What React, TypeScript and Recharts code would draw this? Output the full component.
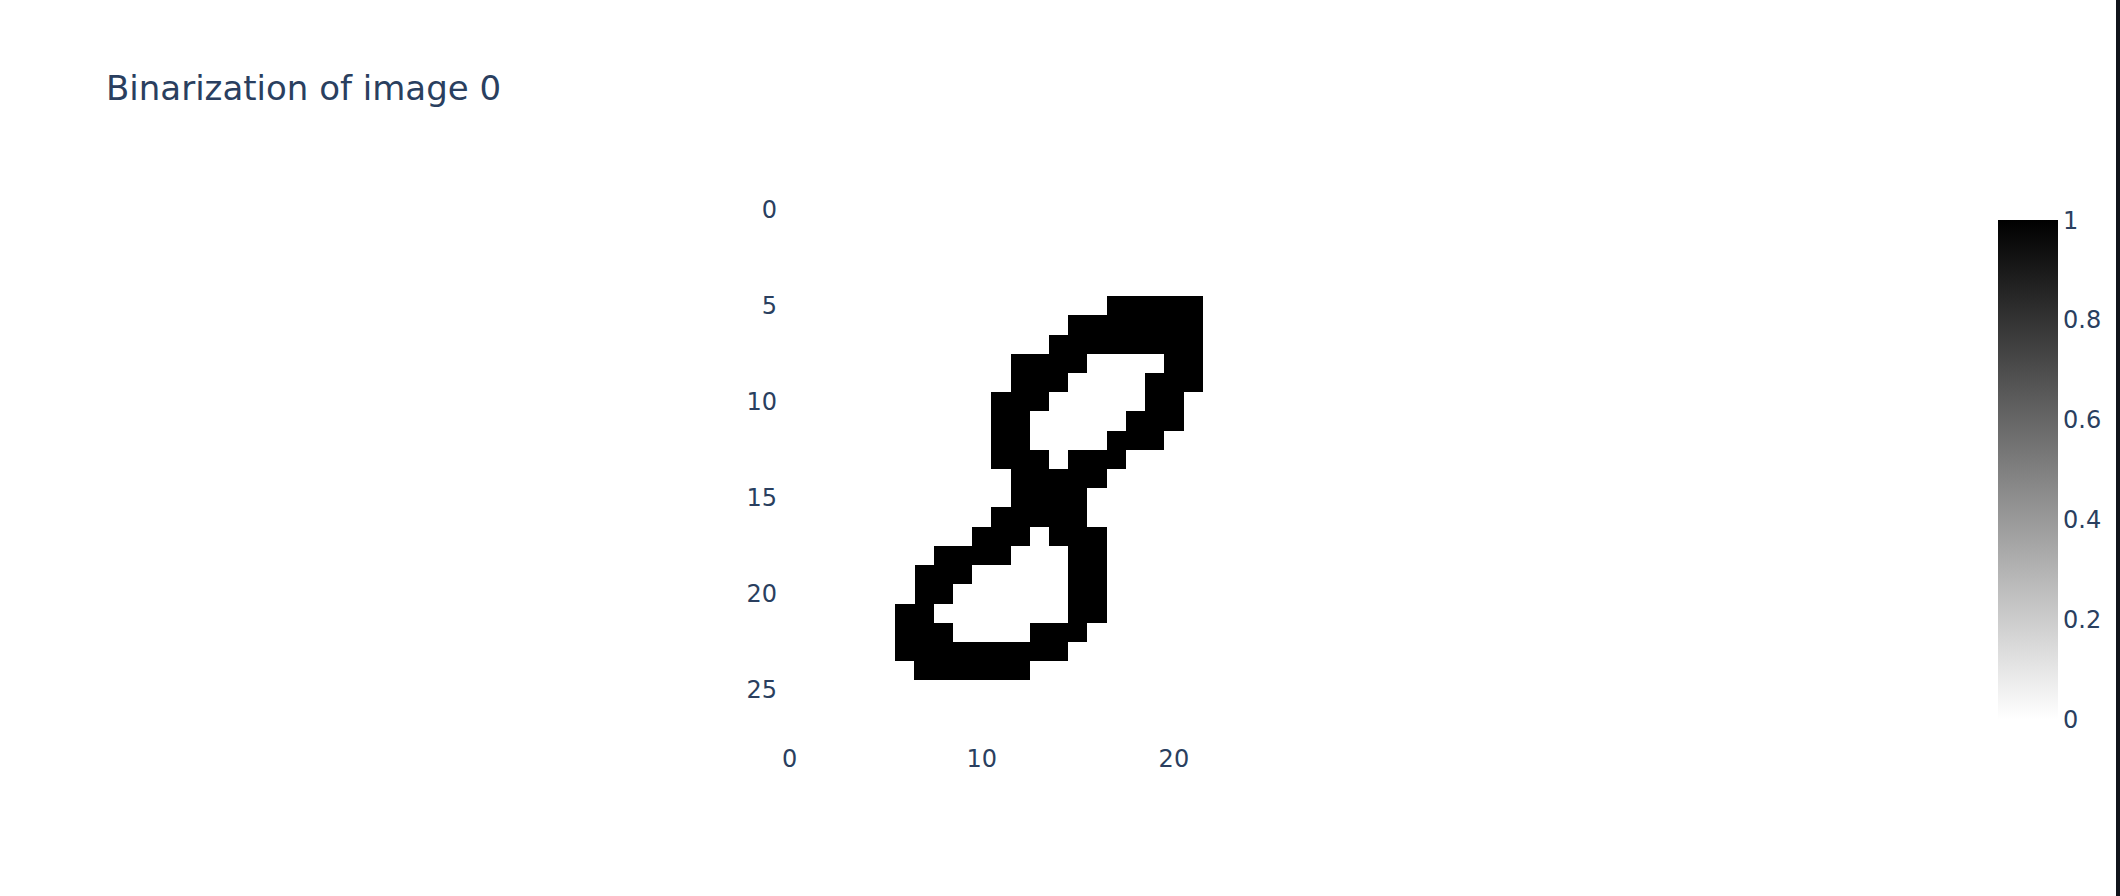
import React from 'react';
import { ComposedChart, XAxis, YAxis, Scatter, ReferenceArea } from 'recharts';

// binarized 28x28 image, one string per row, '1' = black pixel
const imageRows: string[] = [
    '0000000000000000000000000000',
    '0000000000000000000000000000',
    '0000000000000000000000000000',
    '0000000000000000000000000000',
    '0000000000000000000000000000',
    '0000000000000000011111000000',
    '0000000000000001111111000000',
    '0000000000000011111111000000',
    '0000000000001111000011000000',
    '0000000000001110000111000000',
    '0000000000011100000110000000',
    '0000000000011000001110000000',
    '0000000000011000011100000000',
    '0000000000011101110000000000',
    '0000000000001111100000000000',
    '0000000000001111000000000000',
    '0000000000011111000000000000',
    '0000000000111011100000000000',
    '0000000011110001100000000000',
    '0000000111000001100000000000',
    '0000000110000001100000000000',
    '0000001100000001100000000000',
    '0000001110000111000000000000',
    '0000001111111110000000000000',
    '0000000111111000000000000000',
    '0000000000000000000000000000',
    '0000000000000000000000000000',
    '0000000000000000000000000000',
];

const xTicks = [0, 10, 20];
const yTicks = [0, 5, 10, 15, 20, 25];
const colorbarTicks = [0, 0.2, 0.4, 0.6, 0.8, 1];

const TITLE = 'Binarization of image 0';
const FONT = "'DejaVu Sans', Verdana, sans-serif";
const TEXT_COLOR = '#2a3f5f';

interface Cell {
    x: number;
    y: number;
    value: number;
}

const cells: Cell[] = [];
imageRows.forEach((row, r) => {
    row.split('').forEach((ch, c) => {
        cells.push({ x: c, y: r, value: Number(ch) });
    });
});

// horizontal runs of equal value so neighbouring cells don't leave seams
interface Run {
    row: number;
    start: number;
    end: number;
    value: number;
}

const runs: Run[] = [];
imageRows.forEach((row, r) => {
    let start = 0;
    for (let c = 1; c <= row.length; c++) {
        if (c === row.length || row[c] !== row[start]) {
            runs.push({ row: r, start, end: c - 1, value: Number(row[start]) });
            start = c;
        }
    }
});

const grayFor = (v: number) => {
    const g = Math.round(255 * (1 - v));
    return `rgb(${g},${g},${g})`;
};

const YTick = ({ x, y, payload }: any) => (
    <text x={x} y={y} dy={8.5} textAnchor="end" fill={TEXT_COLOR} fontSize={24} fontFamily={FONT}>
        {payload.value}
    </text>
);

const XTick = ({ x, y, payload }: any) => (
    <text x={x} y={y} dy={29} textAnchor="middle" fill={TEXT_COLOR} fontSize={24} fontFamily={FONT}>
        {payload.value}
    </text>
);

function Colorbar() {
    const top = 220;
    const len = 499;
    const left = 1998;
    const thick = 60;
    return (
        <g>
            <defs>
                <linearGradient id="greys" x1="0" y1="0" x2="0" y2="1">
                    <stop offset="0%" stopColor={grayFor(1)} />
                    <stop offset="100%" stopColor={grayFor(0)} />
                </linearGradient>
            </defs>
            <rect x={left} y={top} width={thick} height={len} fill="url(#greys)" />
            {colorbarTicks.map((t) => (
                <text
                    key={t}
                    x={left + thick + 5}
                    y={top + (1 - t) * len}
                    dy={8.5}
                    fill={TEXT_COLOR}
                    fontSize={24}
                    fontFamily={FONT}
                >
                    {t}
                </text>
            ))}
        </g>
    );
}

export default function App() {
    return (
        <div style={{ position: 'absolute', left: 0, top: 0, width: 2120, height: 896, background: '#fff' }}>
            <ComposedChart
                width={2120}
                height={896}
                margin={{ top: 200, right: 802, bottom: 98, left: 700 }}
            >
                <XAxis
                    type="number"
                    dataKey="x"
                    domain={[-0.5, 27.5]}
                    ticks={xTicks}
                    allowDataOverflow
                    axisLine={false}
                    tickLine={false}
                    tickSize={0}
                    tickMargin={0}
                    height={60}
                    tick={<XTick />}
                />
                <YAxis
                    type="number"
                    dataKey="y"
                    domain={[-0.5, 27.5]}
                    ticks={yTicks}
                    reversed
                    allowDataOverflow
                    axisLine={false}
                    tickLine={false}
                    tickSize={0}
                    tickMargin={3}
                    width={80}
                    tick={<YTick />}
                />
                <Scatter data={cells} shape={() => null} isAnimationActive={false} />
                {runs
                    .filter((run) => run.value > 0)
                    .map((run, i) => (
                        <ReferenceArea
                            key={i}
                            x1={run.start - 0.5}
                            x2={run.end + 0.5}
                            y1={run.row - 0.5}
                            y2={run.row + 0.5}
                            fill={grayFor(run.value)}
                            fillOpacity={1}
                            stroke="none"
                            shapeRendering="crispEdges"
                            ifOverflow="visible"
                        />
                    ))}
            </ComposedChart>
            <svg
                width={2120}
                height={896}
                style={{ position: 'absolute', left: 0, top: 0, pointerEvents: 'none' }}
            >
                <text x={106} y={100} fill={TEXT_COLOR} fontSize={34} fontFamily={FONT}>
                    {TITLE}
                </text>
                <Colorbar />
            </svg>
            {/* dark strip along the right edge of the screenshot */}
            <div style={{ position: 'absolute', right: 0, top: 0, width: 4, height: 896, background: '#11141a' }} />
        </div>
    );
}
